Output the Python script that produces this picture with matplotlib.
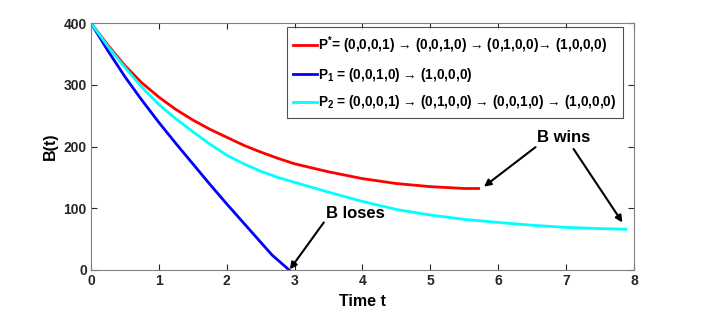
import matplotlib
matplotlib.use('Agg')
from matplotlib import pyplot as plt

plt.rcParams['font.family'] = ['Liberation Sans', 'DejaVu Sans']
plt.rcParams['font.weight'] = 'bold'
plt.rcParams['mathtext.fontset'] = 'custom'
plt.rcParams['mathtext.bf'] = 'Liberation Sans:bold'
plt.rcParams['mathtext.rm'] = 'Liberation Sans:bold'

# P* (red)
t_star = [0, 0.25, 0.5, 0.75, 1.0, 1.25, 1.5, 1.75, 2.0, 2.25, 2.5, 2.75, 3.0,
          3.5, 4.0, 4.5, 5.0, 5.5, 5.71]
b_star = [400, 364, 331, 303, 280, 260, 243, 228, 215, 202, 191, 181, 172,
          159, 148, 140, 135, 132, 132]

# P1 (blue)
t_p1 = [0, 0.25, 0.5, 0.75, 1.0, 1.25, 1.5, 1.75, 2.0, 2.25, 2.5, 2.67, 2.92]
b_p1 = [400, 355, 313, 275, 239, 205, 172, 139, 107, 76, 45, 24, 0]

# P2 (cyan)
t_p2 = [0, 0.25, 0.5, 0.75, 1.0, 1.25, 1.5, 1.75, 2.0, 2.25, 2.5, 2.75, 3.0,
        3.5, 4.0, 4.5, 5.0, 5.5, 6.0, 6.5, 7.0, 7.5, 7.88]
b_p2 = [400, 362, 328, 296, 268, 245, 224, 204, 186, 172, 160, 150, 142,
        126, 111, 98, 89, 82, 77, 72.5, 69, 67, 66]

labels = [
    r'$\mathbf{P^{*}}$= (0,0,0,1) → (0,0,1,0) → (0,1,0,0)→ (1,0,0,0)',
    r'$\mathbf{P_{1}}$ = (0,0,1,0) → (1,0,0,0)',
    r'$\mathbf{P_{2}}$ = (0,0,0,1) → (0,1,0,0) → (0,0,1,0) → (1,0,0,0)',
]
xticks = [0, 1, 2, 3, 4, 5, 6, 7, 8]
yticks = [0, 100, 200, 300, 400]

fig = plt.figure(figsize=(7.02, 3.15), dpi=100)
ax = fig.add_axes([0.1296, 0.1429, 0.7735, 0.784])

ax.plot(t_star, b_star, color='#ff0000', lw=2, label=labels[0])
ax.plot(t_p1, b_p1, color='#0000ff', lw=2, label=labels[1])
ax.plot(t_p2, b_p2, color='#00ffff', lw=2, label=labels[2])

ax.set_xlim(0, 8)
ax.set_ylim(0, 400)
ax.set_xticks(xticks)
ax.set_yticks(yticks)
ax.tick_params(direction='in', length=4, width=0.8, colors='#262626',
               labelsize=10, top=True, right=True, pad=3)
for s in ax.spines.values():
    s.set_color('#808080')
    s.set_linewidth(0.8)
ax.set_xlabel('Time t', fontsize=11.5, fontweight='bold', labelpad=4)
ax.set_ylabel('B(t)', fontsize=11.5, fontweight='bold', labelpad=4)

leg = ax.legend(loc='upper right', bbox_to_anchor=(0.98, 0.982), fontsize=9.8,
                frameon=True, fancybox=False, handlelength=1.75, handletextpad=0.05,
                labelspacing=0.72, borderpad=0.5, borderaxespad=0)
leg.get_frame().set_edgecolor('#262626')
leg.get_frame().set_linewidth(0.8)

# annotations
arrow = dict(arrowstyle='-|>', color='black', lw=1.5,
             mutation_scale=10, shrinkA=0, shrinkB=0)
ax.text(3.90, 91, 'B loses', fontsize=12, fontweight='bold',
        ha='center', va='center')
ax.annotate('', xy=(2.93, 1), xytext=(3.43, 77), arrowprops=arrow)
ax.text(6.97, 214, 'B wins', fontsize=12, fontweight='bold',
        ha='center', va='center')
ax.annotate('', xy=(5.79, 135), xytext=(6.55, 199), arrowprops=arrow)
ax.annotate('', xy=(7.83, 77), xytext=(7.11, 196), arrowprops=arrow)

fig.savefig('out.png', dpi=100)
